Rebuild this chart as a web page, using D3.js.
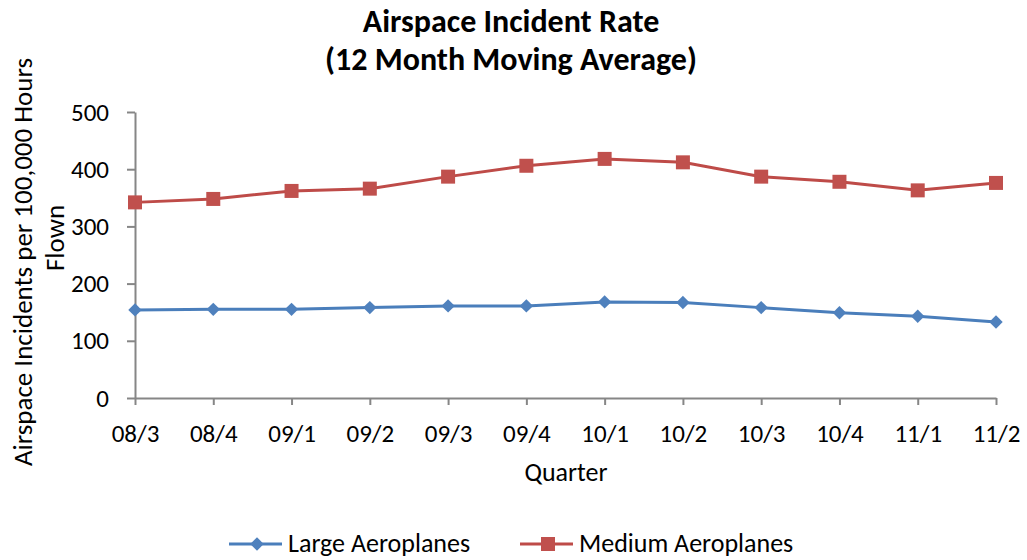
<!DOCTYPE html>
<html>
<head>
<meta charset="utf-8">
<script src="https://cdn.jsdelivr.net/npm/d3@7"></script>
<style>
  body { margin: 0; background: #fff; }
  svg text { font-family: Carlito, Lato, "Open Sans", sans-serif; fill: #000; }
</style>
</head>
<body>
<div id="chart"></div>
<script>
const quarters = ['08/3', '08/4', '09/1', '09/2', '09/3', '09/4', '10/1', '10/2', '10/3', '10/4', '11/1', '11/2'];
const largeValues = [154, 155, 155, 158, 161, 161, 168, 167, 158, 149, 143, 133];
const mediumValues = [342, 348, 362, 366, 387, 406, 418, 412, 387, 378, 363, 376];
const yTicks = [0, 100, 200, 300, 400, 500];

const W = 1027, H = 560;
const margin = { top: 112, right: 30, bottom: 162, left: 135 };
const width = W - margin.left - margin.right;
const height = H - margin.top - margin.bottom;

const svg = d3.select('#chart').append('svg')
  .attr('width', W).attr('height', H);

// title, two lines
const title = svg.append('text')
  .attr('text-anchor', 'middle')
  .style('font-weight', 'bold').style('font-size', '32px');
title.append('tspan').attr('x', 511).attr('y', 32).text('Airspace Incident Rate');
title.append('tspan').attr('x', 511).attr('y', 70).text('(12 Month Moving Average)');

const g = svg.append('g').attr('transform', `translate(${margin.left},${margin.top})`);

const x = d3.scalePoint().domain(quarters).range([0, 861]);
const y = d3.scaleLinear().domain([0, 500]).range([height, 0]);

const styleAxis = a => {
  a.select('.domain').attr('stroke', '#868686').attr('stroke-width', 2);
  a.selectAll('.tick line').attr('stroke', '#868686').attr('stroke-width', 2);
  a.selectAll('.tick text').style('font-size', '25px').attr('fill', '#000');
};

// y axis
g.append('g')
  .call(d3.axisLeft(y).tickValues(yTicks).tickSize(8).tickPadding(18).tickSizeOuter(0))
  .call(styleAxis);

// x axis
g.append('g')
  .attr('transform', `translate(0,${height})`)
  .call(d3.axisBottom(x).tickSize(7).tickPadding(19).tickSizeOuter(0))
  .call(styleAxis);

// axis titles
const yt = svg.append('text')
  .attr('transform', 'rotate(-90)')
  .attr('text-anchor', 'middle').style('font-size', '27px');
yt.append('tspan').attr('x', -262).attr('y', 32).text('Airspace Incidents per 100,000 Hours');
yt.append('tspan').attr('x', -238).attr('y', 64).text('Flown');

svg.append('text')
  .attr('x', 566).attr('y', 481).attr('text-anchor', 'middle')
  .style('font-size', '26px').text('Quarter');

const diamond = {
  draw(ctx, size) {
    const r = Math.sqrt(size / 2);
    ctx.moveTo(0, -r); ctx.lineTo(r, 0); ctx.lineTo(0, r); ctx.lineTo(-r, 0); ctx.closePath();
  }
};

const series = [
  { name: 'Large Aeroplanes', values: largeValues, line: '#4A7EBB', fill: '#4F81BD', shape: diamond, size: 90 },
  { name: 'Medium Aeroplanes', values: mediumValues, line: '#BE4B48', fill: '#C0504D', shape: d3.symbolSquare, size: 196 }
];

const line = d3.line().x((d, i) => x(quarters[i])).y(d => y(d));

series.forEach(s => {
  g.append('path')
    .datum(s.values)
    .attr('fill', 'none')
    .attr('stroke', s.line)
    .attr('stroke-width', 3)
    .attr('d', line);
  g.selectAll(null)
    .data(s.values)
    .enter()
    .append('path')
    .attr('transform', (d, i) => `translate(${x(quarters[i])},${y(d)})`)
    .attr('d', d3.symbol().type(s.shape).size(s.size))
    .attr('fill', s.fill);
});

// legend
const legendX = [229, 520];
series.forEach((s, i) => {
  const lg = svg.append('g').attr('transform', `translate(${legendX[i]},544)`);
  lg.append('line').attr('x1', 0).attr('x2', 53).attr('y1', 0).attr('y2', 0)
    .attr('stroke', s.line).attr('stroke-width', 3);
  lg.append('path').attr('transform', 'translate(28,0)')
    .attr('d', d3.symbol().type(s.shape).size(s.size)).attr('fill', s.fill);
  lg.append('text').attr('x', 59).attr('y', 8).style('font-size', '26px').text(s.name);
});
</script>
</body>
</html>
